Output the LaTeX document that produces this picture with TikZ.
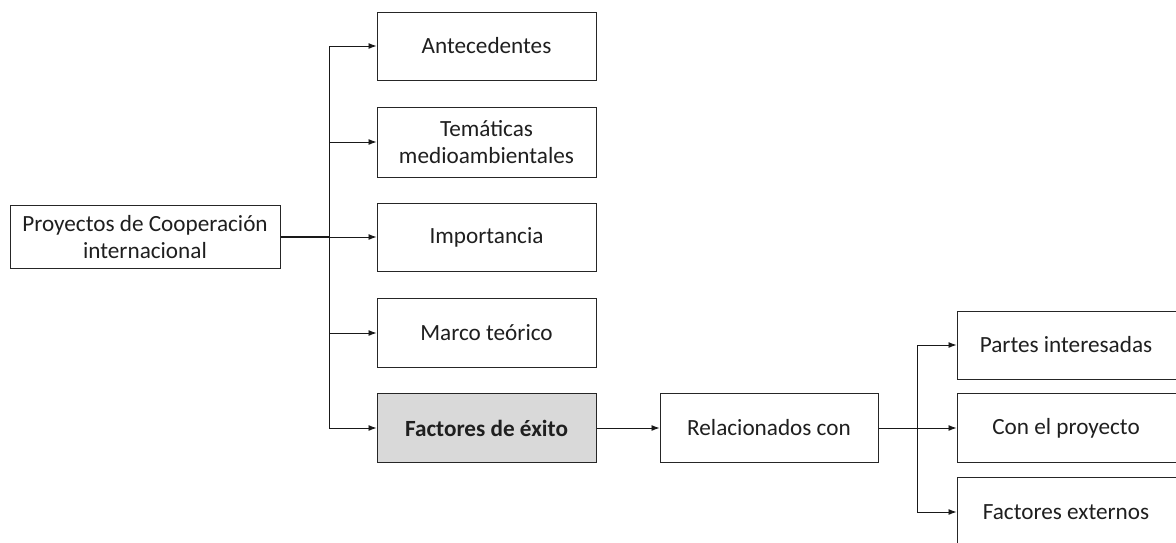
\documentclass[tikz,border=0pt]{standalone}
\usepackage{fontspec}
\setmainfont{Carlito}
\usetikzlibrary{arrows.meta}
\begin{document}
\begin{tikzpicture}[x=1pt,y=-1pt,
  box/.style={draw=black!85, line width=1pt, align=center, inner sep=0pt,
    text=black!88, font=\fontsize{23.2}{27}\selectfont, anchor=center},
  arr/.style={line width=0.9pt, draw=black!90, -{Latex[length=8pt,width=6pt]}},
  ln/.style={line width=0.9pt, draw=black!90}]
\useasboundingbox (0,0) rectangle (1176,542);
\clip (0,0) rectangle (1176,542);
\fill[white] (0,0) rectangle (1176,542);
\node[box, minimum width=270pt, minimum height=63pt] (proy) at (145,237) {Proyectos de Cooperación\\internacional};
\node[box, minimum width=219pt, minimum height=68pt] (ante) at (486.5,46) {Antecedentes};
\node[box, minimum width=219pt, minimum height=70pt] (tema) at (486.5,142) {Temáticas\\medioambientales};
\node[box, minimum width=219pt, minimum height=68pt] (impo) at (486.5,237) {Importancia};
\node[box, minimum width=219pt, minimum height=69pt] (marc) at (486.5,333) {Marco teórico};
\node[box, fill=black!15, minimum width=219pt, minimum height=69pt, font=\fontsize{23.2}{27}\selectfont\bfseries] (fact) at (486.5,428) {Factores de éxito};
\node[box, minimum width=218pt, minimum height=69pt] (rela) at (769,428) {Relacionados con};
\node[box, minimum width=224pt, minimum height=68pt] (part) at (1069,345) {\hspace*{-6pt}Partes interesadas};
\node[box, minimum width=224pt, minimum height=69pt] (conp) at (1069,428) {\hspace*{-6pt}Con el proyecto};
\node[box, minimum width=224pt, minimum height=70pt] (fext) at (1069,512) {\hspace*{-6pt}Factores externos};
\coordinate (tr) at (329,237);
\draw[ln, line width=1.3pt] (proy.east) -- (tr);
\draw[arr] (tr) |- (ante.west);
\draw[arr] (tr) |- (tema.west);
\draw[arr] (tr) -- (impo.west);
\draw[arr] (tr) |- (marc.west);
\draw[arr] (tr) |- (fact.west);
\draw[arr] (fact.east) -- (rela.west);
\coordinate (tr2) at (917,428);
\draw[ln] (rela.east) -- (tr2);
\draw[arr] (tr2) |- (part.west);
\draw[arr] (tr2) -- (conp.west);
\draw[arr] (tr2) |- (fext.west);
\end{tikzpicture}
\end{document}
